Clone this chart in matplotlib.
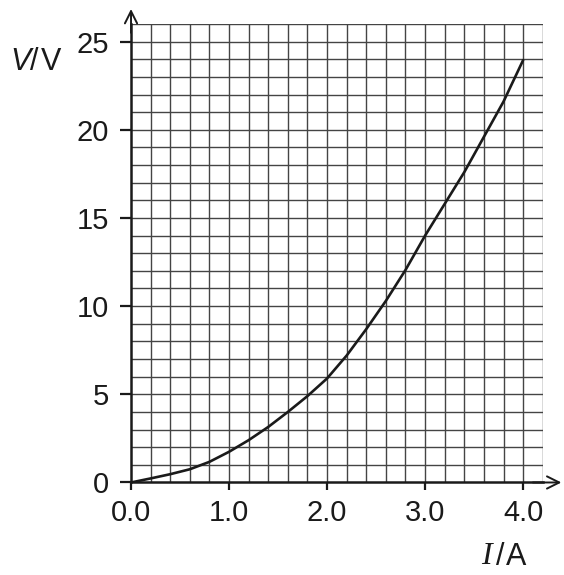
import numpy as np
import matplotlib
matplotlib.use("Agg")
import matplotlib.pyplot as plt

# I-V characteristic
current = [0.0, 0.2, 0.4, 0.6, 0.8, 1.0, 1.2, 1.4, 1.6, 1.8, 2.0,
           2.2, 2.4, 2.6, 2.8, 3.0, 3.2, 3.4, 3.6, 3.8, 4.0]
voltage = [0.0, 0.23, 0.47, 0.75, 1.17, 1.74, 2.4, 3.15, 4.0, 4.9, 5.9,
           7.2, 8.7, 10.3, 12.05, 14.0, 15.8, 17.6, 19.6, 21.6, 23.95]
x_ticks = [0.0, 1.0, 2.0, 3.0, 4.0]
x_tick_labels = ["0.0", "1.0", "2.0", "3.0", "4.0"]
y_ticks = [0, 5, 10, 15, 20, 25]

plt.rcParams['font.family'] = ['Liberation Sans', 'DejaVu Sans']
ink = '#1a1a1a'

fig = plt.figure(figsize=(5.64, 5.75), dpi=100)
ax = fig.add_axes([0.2323, 0.1609, 0.7300, 0.7974])

ax.set_xlim(0, 4.2)
ax.set_ylim(0, 26)

# graph paper grid
for xv in np.arange(0.2, 4.21, 0.2):
    ax.axvline(xv, color='#444444', lw=1.0, zorder=1)
for yv in np.arange(1, 26.5, 1):
    ax.axhline(yv, color='#444444', lw=1.0, zorder=1)

ax.plot(current, voltage, color=ink, lw=1.9, zorder=3,
        solid_capstyle='round', solid_joinstyle='round')

for side in ['top', 'right']:
    ax.spines[side].set_visible(False)
for side in ['left', 'bottom']:
    ax.spines[side].set_linewidth(1.8)
    ax.spines[side].set_color(ink)
    ax.spines[side].set_zorder(4)

ax.set_xticks(x_ticks)
ax.set_xticklabels(x_tick_labels)
ax.set_yticks(y_ticks)
ax.tick_params(axis='both', labelsize=21, colors=ink, width=1.6,
               direction='out')
ax.tick_params(axis='x', length=6, pad=6)
ax.tick_params(axis='y', length=8, pad=8)

# axis arrows
arrow = dict(arrowstyle='->', color=ink, lw=1.4,
             mutation_scale=22, shrinkA=0, shrinkB=0)
ax.annotate('', xy=(0, 26.85), xytext=(0, 25.5), arrowprops=arrow,
            annotation_clip=False)
ax.annotate('', xy=(4.39, 0), xytext=(4.1, 0), arrowprops=arrow,
            annotation_clip=False)

# axis labels
ylab_y = 1 - 62 / 575
fig.text(10 / 564, ylab_y, 'V', fontsize=22, style='italic',
         va='center', ha='left', color=ink)
fig.text(30 / 564, ylab_y, '/', fontsize=22,
         va='center', ha='left', color=ink)
fig.text(41 / 564, ylab_y, 'V', fontsize=22,
         va='center', ha='left', color=ink)

xlab_y = 1 - 557 / 575
fig.text(481 / 564, xlab_y, 'I', fontsize=23, style='italic',
         family=['Liberation Serif', 'DejaVu Serif'],
         va='center', ha='left', color=ink)
fig.text(496 / 564, xlab_y, '/', fontsize=22,
         va='center', ha='left', color=ink)
fig.text(506 / 564, xlab_y, 'A', fontsize=22,
         va='center', ha='left', color=ink)

fig.savefig('out.png', dpi=100)
